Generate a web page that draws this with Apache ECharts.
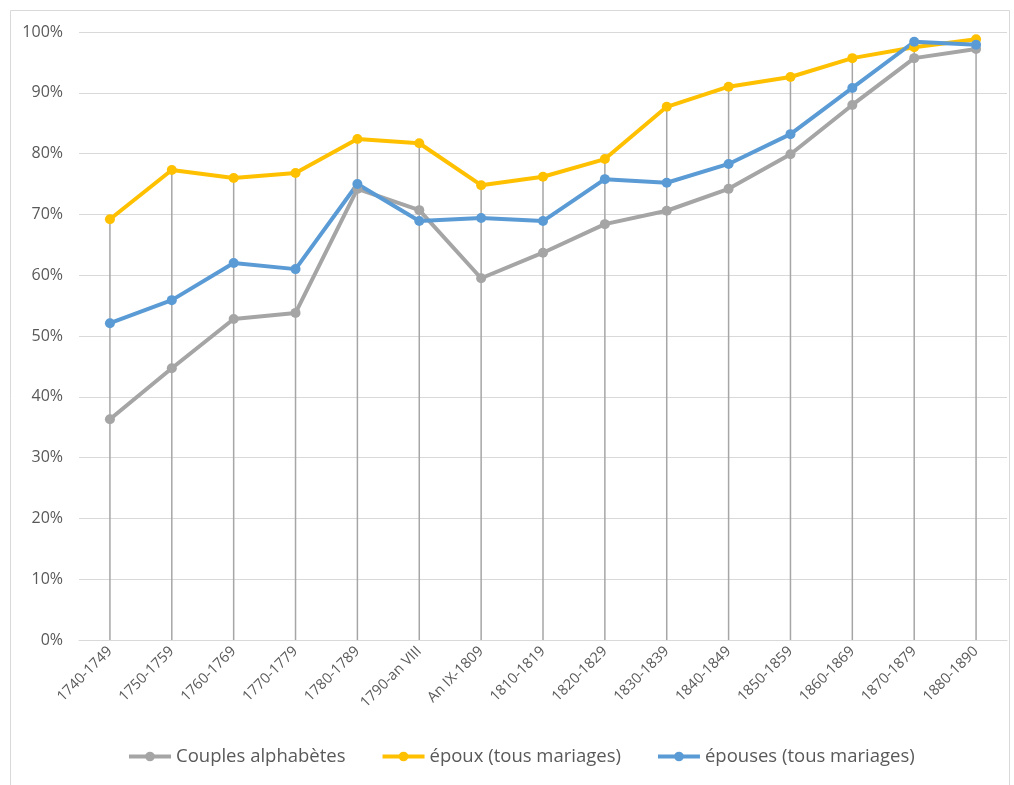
<!DOCTYPE html>
<html lang="fr">
<head>
    <meta charset="UTF-8">
    <title>Alphabétisation</title>
    <style>
        html, body {
            margin: 0;
            padding: 0;
            background: #fff;
        }

        #chart {
            width: 1014px;
            height: 785px;
        }
    </style>
</head>
<body>
<div id="chart"></div>
<script src="https://cdn.jsdelivr.net/npm/echarts@6/dist/echarts.min.js"></script>
<script>
    var periods = ['1740-1749', '1750-1759', '1760-1769', '1770-1779', '1780-1789', '1790-an VIII',
        'An IX-1809', '1810-1819', '1820-1829', '1830-1839', '1840-1849', '1850-1859',
        '1860-1869', '1870-1879', '1880-1890'];
    var couples = [36.3, 44.7, 52.8, 53.8, 74.2, 70.7, 59.5, 63.7, 68.4, 70.6, 74.2, 79.9, 88.0, 95.7, 97.2];
    var epoux = [69.2, 77.3, 76.0, 76.8, 82.4, 81.7, 74.8, 76.2, 79.1, 87.7, 91.0, 92.6, 95.7, 97.5, 98.8];
    var epouses = [52.1, 55.9, 62.0, 61.0, 75.0, 68.9, 69.4, 68.9, 75.8, 75.2, 78.3, 83.2, 90.8, 98.4, 97.9];

    // drop lines go from the highest point of each period down to the axis
    var dropTop = periods.map(function (p, i) {
        return Math.max(couples[i], epoux[i], epouses[i]);
    });

    var font = 'Open Sans';

    var line = function (name, data, color) {
        return {
            name: name,
            type: 'line',
            data: data,
            symbol: 'circle',
            symbolSize: 10,
            lineStyle: {width: 4, color: color},
            itemStyle: {color: color},
            z: 3
        };
    };

    var option = {
        animation: false,
        textStyle: {fontFamily: font},
        graphic: [{
            type: 'rect',
            shape: {x: 10.5, y: 10.5, width: 999, height: 790},
            style: {fill: 'none', stroke: '#d9d9d9', lineWidth: 1},
            silent: true
        }],
        grid: {left: 79, right: 7, top: 32, bottom: 145},
        legend: {
            data: ['Couples alphabètes', 'époux (tous mariages)', 'épouses (tous mariages)'],
            bottom: 14,
            left: 122,
            itemWidth: 42,
            itemHeight: 12,
            itemGap: 35,
            lineStyle: {width: 4},
            textStyle: {fontSize: 18.5, color: '#595959', fontFamily: font}
        },
        xAxis: {
            type: 'category',
            data: periods,
            boundaryGap: true,
            axisLine: {show: true, lineStyle: {color: '#d9d9d9', width: 1}},
            axisTick: {show: false},
            axisLabel: {
                rotate: 45,
                interval: 0,
                fontSize: 14.5,
                color: '#595959',
                margin: 9,
                fontFamily: font
            }
        },
        yAxis: {
            type: 'value',
            min: 0,
            max: 100,
            interval: 10,
            axisLine: {show: false},
            axisTick: {show: false},
            axisLabel: {
                formatter: '{value}%',
                fontSize: 16,
                color: '#595959',
                margin: 16,
                fontFamily: font
            },
            splitLine: {lineStyle: {color: '#d9d9d9', width: 1}}
        },
        series: [
            {
                name: 'drop',
                type: 'bar',
                data: dropTop,
                barWidth: 1.5,
                itemStyle: {color: '#a6a6a6'},
                silent: true,
                z: 1
            },
            line('Couples alphabètes', couples, '#a5a5a5'),
            line('époux (tous mariages)', epoux, '#ffc000'),
            line('épouses (tous mariages)', epouses, '#5b9bd5')
        ]
    };

    var myChart = echarts.init(document.getElementById('chart'));
    myChart.setOption(option);
</script>
</body>
</html>
